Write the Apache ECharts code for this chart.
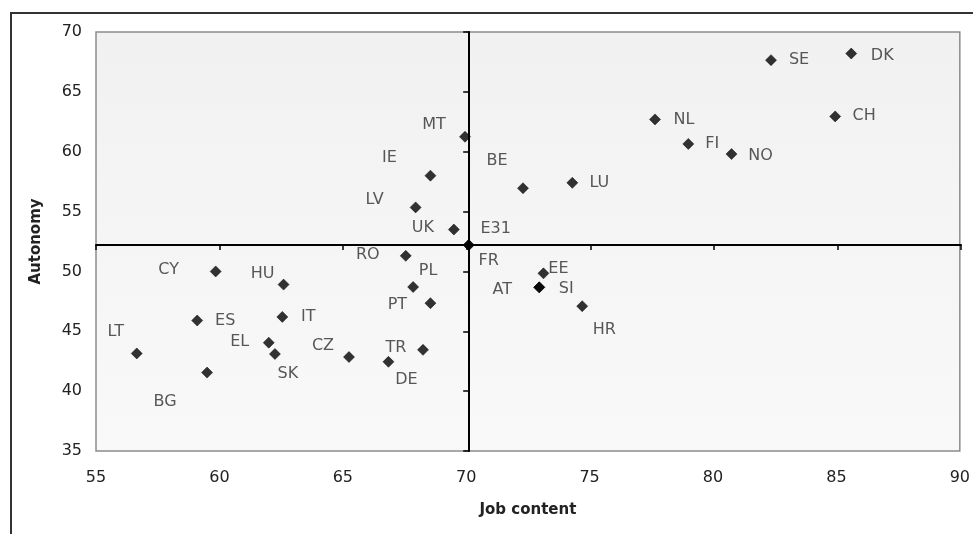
<!DOCTYPE html>
<html>
<head>
<meta charset="utf-8">
<script src="https://cdn.jsdelivr.net/npm/echarts@6/dist/echarts.min.js"></script>
<style>
html,body{margin:0;padding:0;background:#fff;}
#chart{width:973px;height:534px;}
</style>
</head>
<body>
<div id="chart"></div>
<script>
// ---- data ----
const countries = ['SE','DK','NL','FI','NO','CH','MT','IE','LV','UK','BE','LU','E31','FR','RO','PL','PT','CZ','TR','DE','EE','AT','SI','HR','CY','HU','IT','ES','LT','BG','EL','SK'];
const jobContent = [82.35,85.6,77.65,79.0,80.75,84.95,69.95,68.55,67.95,69.5,72.3,74.3,70.1,70.1,67.55,67.85,68.55,65.25,68.25,66.85,73.13,72.96,72.96,74.7,59.85,62.6,62.55,59.1,56.65,59.5,62.0,62.25];
const autonomy   = [67.65,68.2,62.7,60.65,59.8,62.95,61.25,58.0,55.35,53.5,56.95,57.4,52.2,52.2,51.3,48.7,47.35,42.85,43.45,42.45,49.84,48.67,48.67,47.1,50.0,48.9,46.2,45.9,43.15,41.55,44.05,43.1];
const xTicks = [55,60,65,70,75,80,85,90];
const yTicks = [35,40,45,50,55,60,65,70];
const crossX = 70.1;   // E31 job content
const crossY = 52.2;   // E31 autonomy

// ---- label placement (style) ----
const labelOffset = {
  SE:[28,0], DK:[31,2], NL:[29,0], FI:[24,0], NO:[29,2], CH:[29,-1],
  MT:[-31,-12], IE:[-41,-18], LV:[-41,-8], UK:[-31,-2], BE:[-26,-27], LU:[27,0],
  E31:[27,-16], FR:[20,16], RO:[-38,-1], PL:[15,-16], PT:[-33,2], CZ:[-26,-11],
  TR:[-27,-2], DE:[18,18], EE:[15,-5], AT:[-37,2], SI:[27,1], HR:[22,24],
  CY:[-47,-2], HU:[-21,-11], IT:[26,0], ES:[28,0], LT:[-21,-22], BG:[-42,29],
  EL:[-29,-1], SK:[13,20]
};

const FONT = 'DejaVu Sans';
const L = 96, R = 12, T = 32, B = 83;
const W = 973, H = 534;
const plotW = W - L - R, plotH = H - T - B;
const xMin = xTicks[0], xMax = xTicks[xTicks.length-1];
const yMin = yTicks[0], yMax = yTicks[yTicks.length-1];
const crossPxY = T + (yMax - crossY) / (yMax - yMin) * plotH;
const crossPxX = L + (crossX - xMin) / (xMax - xMin) * plotW;

const pts = countries.map((c,i)=>({
  name:c, value:[jobContent[i], autonomy[i]],
  label:{offset: labelOffset[c]}
}));

const chart = echarts.init(document.getElementById('chart'), null, {renderer:'canvas'});
chart.setOption({
  animation:false,
  backgroundColor:'#fff',
  graphic:[{type:'rect', shape:{x:11,y:13,width:1100,height:700}, style:{fill:'none',stroke:'#333',lineWidth:2}, z:-1}],
  grid:[
    {left:L, right:R, top:T, bottom:B, show:true, borderColor:'#8c8c8c', borderWidth:1.5,
     backgroundColor:{type:'linear',x:0,y:0,x2:0,y2:1,colorStops:[{offset:0,color:'#f1f1f1'},{offset:1,color:'#f9f9f9'}]}},
    {left:L, right:R, top:T, height:crossPxY - T},
    {left:crossPxX, right:R, top:T, bottom:B}
  ],
  xAxis:[
    {gridIndex:0, type:'value', min:xMin, max:xMax, interval:5,
     name:'Job content', nameLocation:'middle', nameGap:52,
     nameTextStyle:{fontFamily:FONT, fontWeight:'bold', fontSize:15, color:'#222'},
     axisLine:{show:false}, axisTick:{show:false}, splitLine:{show:false},
     axisLabel:{fontFamily:FONT, fontSize:16, color:'#222', margin:19}},
    {gridIndex:1, type:'value', min:xMin, max:xMax, interval:5, position:'bottom',
     axisLine:{show:true, lineStyle:{color:'#000', width:2}},
     axisTick:{show:true, length:5, lineStyle:{color:'#000', width:1.5}},
     axisLabel:{show:false}, splitLine:{show:false}},
    {gridIndex:2, type:'value', min:crossX, max:xMax, show:false}
  ],
  yAxis:[
    {gridIndex:0, type:'value', min:yMin, max:yMax, interval:5,
     name:'Autonomy', nameLocation:'middle', nameGap:52, nameRotate:90,
     nameTextStyle:{fontFamily:FONT, fontWeight:'bold', fontSize:15, color:'#222'},
     axisLine:{show:false}, axisTick:{show:false}, splitLine:{show:false},
     axisLabel:{fontFamily:FONT, fontSize:16, color:'#222', margin:14}},
    {gridIndex:1, type:'value', min:crossY, max:yMax, show:false},
    {gridIndex:2, type:'value', min:yMin, max:yMax, interval:5, position:'left',
     axisLine:{show:true, lineStyle:{color:'#000', width:2}},
     axisTick:{show:true, length:6, lineStyle:{color:'#000', width:1.5}},
     axisLabel:{show:false}, splitLine:{show:false}}
  ],
  series:[{
    type:'scatter', xAxisIndex:0, yAxisIndex:0, z:5,
    symbol:'diamond', symbolSize:11,
    itemStyle:{color:'#000', borderColor:'#000', borderWidth:0.6},
    label:{show:true, position:'inside', formatter:'{b}', align:'center', verticalAlign:'middle',
      fontFamily:FONT, fontSize:16, color:'#2e2e2e'},
    data:pts
  }]
});
</script>
</body>
</html>
